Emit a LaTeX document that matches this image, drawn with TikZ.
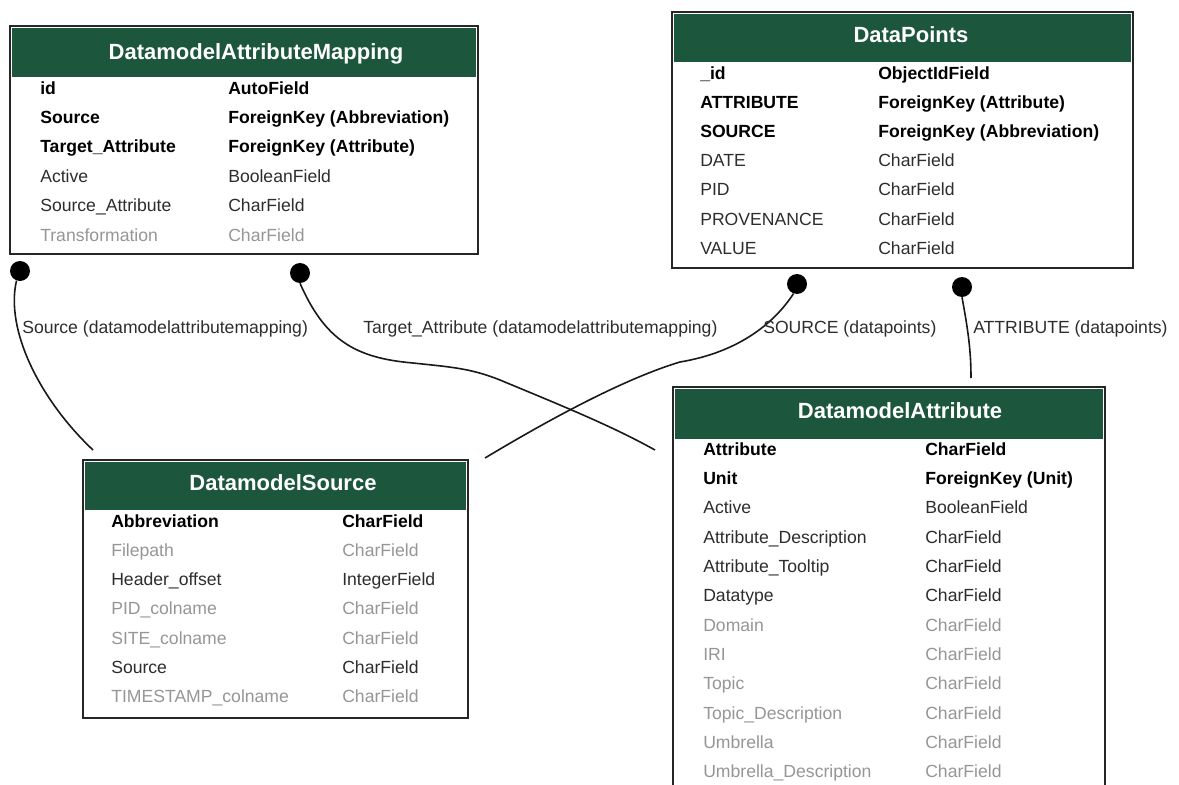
\documentclass[tikz,border=0pt]{standalone}
\usepackage{fontspec}
\setmainfont{Liberation Sans}
\usetikzlibrary{fit}
\definecolor{hdr}{RGB}{27,86,61}
\definecolor{rowdark}{RGB}{45,45,45}
\definecolor{rowgray}{RGB}{150,150,150}
\newcommand\rowfs{\fontsize{13.2}{15}\selectfont}
\newcommand\titlefs{\fontsize{16.5}{19}\selectfont\bfseries}
\tikzset{
  tbl/.style={draw=black!85, line width=1.2pt, fill=white, inner sep=0pt},
  hdrbox/.style={fill=hdr, draw=none, inner sep=0pt},
  ttl/.style={anchor=base, text=white, font=\titlefs, inner sep=0pt},
  row/.style={anchor=base west, inner sep=0pt},
  lbl/.style={anchor=base west, inner sep=0pt, text=rowdark, font=\rowfs},
  dotn/.style={circle, fill=black, minimum size=15pt, inner sep=0pt},
  conn/.style={draw=black!90, line width=1.2pt},
}
\begin{document}
\begin{tikzpicture}[x=0.75pt,y=-0.75pt]
\useasboundingbox (0,0) rectangle (1179,785);
\clip (0,0) rectangle (1179,785);

% ---- DatamodelAttributeMapping
\node[tbl, fit={(10,26) (478,254)}] (b1) {};
\node[hdrbox, fit={(12,28) (476,77)}] (b1h) {};
\node[ttl] (b1t) at (256,60) {DatamodelAttributeMapping};
\foreach \a/\b/\c/\f [count=\i] in {
  id/AutoField/black/\bfseries,
  Source/ForeignKey (Abbreviation)/black/\bfseries,
  Target\_Attribute/ForeignKey (Attribute)/black/\bfseries,
  Active/BooleanField/rowdark/\mdseries,
  Source\_Attribute/CharField/rowdark/\mdseries,
  Transformation/CharField/rowgray/\mdseries}{
  \node[row, text=\c, font=\rowfs\f] (b1a\i) at (40,{94+29.4*(\i-1)}) {\a};
  \node[row, text=\c, font=\rowfs\f] (b1b\i) at (228,{94+29.4*(\i-1)}) {\b};
}

% ---- DataPoints
\node[tbl, fit={(672,12) (1133,268)}] (b2) {};
\node[hdrbox, fit={(674,14) (1131,62)}] (b2h) {};
\node[ttl] (b2t) at (911,42) {DataPoints};
\foreach \a/\b/\c/\f [count=\i] in {
  \_id/ObjectIdField/black/\bfseries,
  ATTRIBUTE/ForeignKey (Attribute)/black/\bfseries,
  SOURCE/ForeignKey (Abbreviation)/black/\bfseries,
  DATE/CharField/rowdark/\mdseries,
  PID/CharField/rowdark/\mdseries,
  PROVENANCE/CharField/rowdark/\mdseries,
  VALUE/CharField/rowdark/\mdseries}{
  \node[row, text=\c, font=\rowfs\f] (b2a\i) at (700,{79+29.2*(\i-1)}) {\a};
  \node[row, text=\c, font=\rowfs\f] (b2b\i) at (878,{79+29.2*(\i-1)}) {\b};
}

% ---- DatamodelAttribute
\node[tbl, fit={(673,387) (1105,800)}] (b3) {};
\node[hdrbox, fit={(675,389) (1103,439)}] (b3h) {};
\node[ttl] (b3t) at (900,418) {DatamodelAttribute};
\foreach \a/\b/\c/\f [count=\i] in {
  Attribute/CharField/black/\bfseries,
  Unit/ForeignKey (Unit)/black/\bfseries,
  Active/BooleanField/rowdark/\mdseries,
  Attribute\_Description/CharField/rowdark/\mdseries,
  Attribute\_Tooltip/CharField/rowdark/\mdseries,
  Datatype/CharField/rowdark/\mdseries,
  Domain/CharField/rowgray/\mdseries,
  IRI/CharField/rowgray/\mdseries,
  Topic/CharField/rowgray/\mdseries,
  Topic\_Description/CharField/rowgray/\mdseries,
  Umbrella/CharField/rowgray/\mdseries,
  Umbrella\_Description/CharField/rowgray/\mdseries}{
  \node[row, text=\c, font=\rowfs\f] (b3a\i) at (703,{455+29.36*(\i-1)}) {\a};
  \node[row, text=\c, font=\rowfs\f] (b3b\i) at (925,{455+29.36*(\i-1)}) {\b};
}

% ---- DatamodelSource
\node[tbl, fit={(83,460) (468,718)}] (b4) {};
\node[hdrbox, fit={(85,462) (466,510)}] (b4h) {};
\node[ttl] (b4t) at (283,490) {DatamodelSource};
\foreach \a/\b/\c/\f [count=\i] in {
  Abbreviation/CharField/black/\bfseries,
  Filepath/CharField/rowgray/\mdseries,
  Header\_offset/IntegerField/rowdark/\mdseries,
  PID\_colname/CharField/rowgray/\mdseries,
  SITE\_colname/CharField/rowgray/\mdseries,
  Source/CharField/rowdark/\mdseries,
  TIMESTAMP\_colname/CharField/rowgray/\mdseries}{
  \node[row, text=\c, font=\rowfs\f] (b4a\i) at (111,{527+29.33*(\i-1)}) {\a};
  \node[row, text=\c, font=\rowfs\f] (b4b\i) at (342,{527+29.33*(\i-1)}) {\b};
}

% ---- connectors
\node[dotn] (d1) at (20,271) {};
\node[dotn] (d2) at (300,273) {};
\node[dotn] (d3) at (797,284) {};
\node[dotn] (d4) at (962,287) {};
\coordinate (e1) at (93,450);
\coordinate (e2) at (655,450);
\coordinate (e3) at (485,458);
\coordinate (e4) at (971,378);

\draw[conn] (d1.250) .. controls (5,330) and (40,400) .. (e1);
\draw[conn] (d2.south) .. controls (325,340) and (355,358) .. (413,363)
   .. controls (450,367) and (470,368) .. (500,380)
   .. controls (560,405) and (610,425) .. (e2);
\draw[conn] (d3.250) .. controls (775,322) and (740,352) .. (680,362)
   .. controls (620,380) and (540,425) .. (e3);
\draw[conn] (d4.south) .. controls (968,330) and (971,350) .. (e4);

\node[lbl] (l1) at (22,333) {Source (datamodelattributemapping)};
\node[lbl] (l2) at (363,333) {Target\_Attribute (datamodelattributemapping)};
\node[lbl] (l3) at (763,333) {SOURCE (datapoints)};
\node[lbl] (l4) at (973,333) {ATTRIBUTE (datapoints)};
\end{tikzpicture}
\end{document}
